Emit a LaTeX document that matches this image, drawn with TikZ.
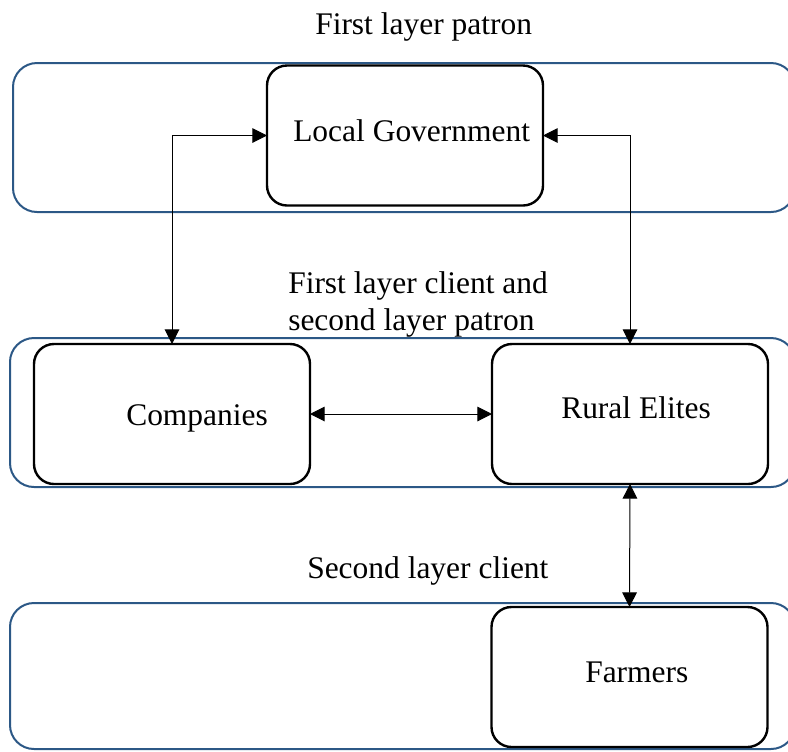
\documentclass[tikz,border=0pt]{standalone}
\usepackage{fontspec}
\setmainfont{Liberation Serif}
\usetikzlibrary{arrows.meta}
\definecolor{layerblue}{RGB}{44,88,134}
\tikzset{
  layerbox/.style={draw=layerblue, line width=1.5pt, rounded corners=18pt, inner sep=0pt, outer sep=0pt},
  actorbox/.style={draw=black, line width=1.8pt, rounded corners=15pt, fill=white, inner sep=0pt, outer sep=0pt,
    minimum width=207pt, minimum height=105pt},
  txt/.style={anchor=base west, inner sep=0pt, font=\fontsize{23.6}{27.6}\selectfont},
  link/.style={line width=0.75pt, {Triangle[length=11pt,width=11pt]}-{Triangle[length=11pt,width=11pt]}}
}
\begin{document}
\begin{tikzpicture}[x=0.75pt, y=-0.75pt]
\useasboundingbox (0,0) rectangle (788,751);
% layer frames
\node[layerbox, minimum width=586.5pt, minimum height=111.75pt] (outer1) at (404,137.5) {};
\node[layerbox, minimum width=588.75pt, minimum height=111.75pt] (outer2) at (402.5,412.5) {};
\node[layerbox, minimum width=588.75pt, minimum height=109.5pt] (outer3) at (402.5,676) {};
% actors
\node[actorbox] (lg) at (405,135.5) {};
\node[actorbox] (companies) at (172,414) {};
\node[actorbox] (rural) at (630,414) {};
\node[actorbox] (farmers) at (629.5,677) {};
% texts
\node[txt] (tlg) at (293,141) {Local Government};
\node[txt] (tcomp) at (126,425) {Companies};
\node[txt] (trural) at (561,418) {Rural Elites};
\node[txt] (tfarm) at (585,682) {Farmers};
\node[txt] (l1) at (315,34) {First layer patron};
\node[txt] (l2a) at (288,293) {First layer client and};
\node[txt] (l2b) at (288,330) {second layer patron};
\node[txt] (l3) at (307,578) {Second layer client};
% connectors
\draw[link] (companies.north) |- (lg.west);
\draw[link] (rural.north) |- (lg.east);
\draw[link] (companies.east) -- (rural.west);
\draw[link] (rural.south) -- (farmers.north);
\end{tikzpicture}
\end{document}
